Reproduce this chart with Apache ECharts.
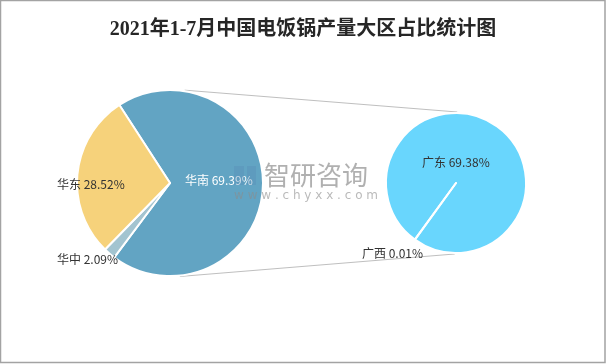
<!DOCTYPE html>
<html>
<head>
<meta charset="utf-8">
<script src="https://cdn.jsdelivr.net/npm/echarts@6/dist/echarts.min.js"></script>
<style>
html,body{margin:0;padding:0;background:#fff;}
#chart{width:606px;height:364px;}
</style>
</head>
<body>
<div id="chart"></div>
<script>
// ---- data ----
const titleText = '2021年1-7月中国电饭锅产量大区占比统计图';
const mainNames = ['华南', '华中', '华东'];
const mainValues = [69.39, 2.09, 28.52];
const subNames = ['广东', '广西'];
const subValues = [69.38, 0.01];

// ---- layout / style ----
const C1 = [170, 183], R1 = 93;
const C2 = [456, 183], R2 = 70;
const mainColors = ['#62A4C3', '#A3C4D0', '#F6D27B'];
const subColors = ['#69D6FD', '#69D6FD'];
const mainLabelOffsets = [[15, -3], [-113, 76], [-113, 1]];
const subLabelOffsets = [[-34, -21], [-94, 70]];
const mainLabelColors = ['#ffffff', '#333333', '#333333'];
const font = "'Noto Sans CJK SC', 'Noto Sans', sans-serif";

function pt(c, r, degCwFromTop) {
  const a = degCwFromTop * Math.PI / 180;
  return [c[0] + r * Math.sin(a), c[1] - r * Math.cos(a)];
}
const tA = pt(C1, R1 + 1, 9), tB = pt(C2, R2 + 1, 1);
const bA = pt(C1, R1 + 1, 174), bB = pt(C2, R2 + 1, 181);

const chart = echarts.init(document.getElementById('chart'), null, {renderer: 'canvas'});
chart.setOption({
  backgroundColor: '#ffffff',
  animation: false,
  title: {
    text: titleText,
    left: 'center',
    top: 15,
    textStyle: {fontFamily: "'Liberation Serif', 'Noto Sans CJK SC', serif", fontWeight: 'bold', fontSize: 20, color: '#262626'}
  },
  graphic: [
    {type: 'rect', shape: {x: 0.5, y: 0.5, width: 604.5, height: 362}, style: {fill: 'none', stroke: '#a3a3a3', lineWidth: 1.5}, z: 100},
    {type: 'line', shape: {x1: tA[0], y1: tA[1], x2: tB[0], y2: tB[1]}, style: {stroke: '#bfbfbf', lineWidth: 1}, z: 1},
    {type: 'line', shape: {x1: bA[0], y1: bA[1], x2: bB[0], y2: bB[1]}, style: {stroke: '#bfbfbf', lineWidth: 1}, z: 1},
    {type: 'rect', shape: {x: 234, y: 166, width: 10, height: 19}, style: {fill: 'rgba(90,140,180,0.35)'}, z: 50},
    {type: 'rect', shape: {x: 247, y: 166, width: 9, height: 19}, style: {fill: 'rgba(90,140,180,0.35)'}, z: 50},
    {type: 'text', x: 264, y: 175, style: {text: '智研咨询', font: "26px 'Noto Sans CJK SC', sans-serif", fill: 'rgba(150,150,150,0.75)', verticalAlign: 'middle', align: 'left'}, z: 50},
    {type: 'text', x: 234, y: 196, style: {text: 'w w w . c h y x x . c o m', font: "12px 'DejaVu Sans', sans-serif", fill: 'rgba(140,140,140,0.6)', verticalAlign: 'middle', align: 'left'}, z: 50}
  ],
  series: [
    {
      type: 'pie',
      center: C1,
      radius: R1,
      startAngle: 123,
      clockwise: true,
      silent: true,
      data: mainNames.map((n, i) => ({name: n, value: mainValues[i], itemStyle: {color: mainColors[i]}, label: {color: mainLabelColors[i]}})),
      itemStyle: {borderColor: '#ffffff', borderWidth: 2},
      label: {
        show: true,
        position: 'inside',
        formatter: p => p.name + ' ' + p.value.toFixed(2) + '%',
        fontFamily: font, fontSize: 12
      },
      labelLine: {show: false},
      labelLayout: p => ({x: C1[0] + mainLabelOffsets[p.dataIndex][0], y: C1[1] + mainLabelOffsets[p.dataIndex][1], align: 'left', verticalAlign: 'middle'}),
      emphasis: {disabled: true}
    },
    {
      type: 'pie',
      center: C2,
      radius: R2,
      startAngle: 234,
      clockwise: true,
      silent: true,
      data: subNames.map((n, i) => ({name: n, value: subValues[i], itemStyle: {color: subColors[i]}})),
      itemStyle: {borderColor: '#ffffff', borderWidth: 2},
      label: {
        show: true,
        position: 'inside',
        color: '#333333',
        formatter: p => p.name + ' ' + p.value.toFixed(2) + '%',
        fontFamily: font, fontSize: 12
      },
      labelLine: {show: false},
      labelLayout: p => ({x: C2[0] + subLabelOffsets[p.dataIndex][0], y: C2[1] + subLabelOffsets[p.dataIndex][1], align: 'left', verticalAlign: 'middle'}),
      emphasis: {disabled: true}
    }
  ]
});
</script>
</body>
</html>
